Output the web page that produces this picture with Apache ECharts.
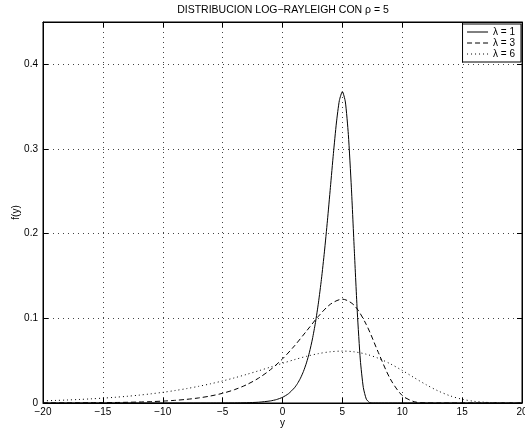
<!DOCTYPE html>
<html><head><meta charset="utf-8">
<script src="https://cdn.jsdelivr.net/npm/echarts@6/dist/echarts.min.js"></script>
<style>html,body{margin:0;padding:0;background:#fff}#c{width:525px;height:437px}</style>
</head><body><div id="c"></div>
<script>
// x positions and read values, lambda = 1
var x1 = [-20,-10,-6,-5,-4,-3,-2,-1,-0.5,0,0.5,1,1.25,1.5,1.75,2,2.25,2.5,2.75,3,3.25,3.5,3.75,4,4.25,4.5,4.75,5,5.25,5.5,5.75,6,6.25,6.5,6.75,7,7.25,7.5,8,20];
var y1 = [0,0,0.0000167,0.0000454,0.000123,0.000335,0.000911,0.002473,0.00407,0.006693,0.010986,0.017983,0.022971,0.029299,0.0373,0.047369,0.059969,0.075616,0.094857,0.118205,0.146055,0.178506,0.215128,0.254646,0.294542,0.330705,0.357431,0.367879,0.355585,0.317032,0.254908,0.179374,0.106382,0.050706,0.018216,0.004565,0.00072,0.0000624,0,0];
// lambda = 3
var x3 = [-20,-19,-18,-17,-16,-15,-14,-13,-12,-11,-10,-9,-8,-7,-6,-5,-4,-3,-2,-1,0,1,2,3,4,5,6,7,8,9,10,11,12,13,14,20];
var y3 = [0.00008,0.000112,0.000156,0.000218,0.000304,0.000423,0.000591,0.000824,0.001148,0.001601,0.002231,0.003105,0.004318,0.005994,0.008305,0.011475,0.01579,0.021606,0.029337,0.039402,0.052123,0.067505,0.084882,0.102418,0.116663,0.122626,0.115212,0.092589,0.059791,0.028469,0.008853,0.001522,0.000114,0.0000027,0,0];
// lambda = 6
var x6 = [-20,-19,-18,-17,-16,-15,-14,-13,-12,-11,-10,-9,-8,-7,-6,-5,-4,-3,-2,-1,0,1,2,3,4,5,6,7,8,9,10,11,12,13,14,15,16,17,18,19,20];
var y6 = [0.002544,0.002997,0.00353,0.004153,0.004883,0.005737,0.006734,0.007895,0.009243,0.010803,0.012603,0.014668,0.017027,0.019701,0.02271,0.026061,0.029751,0.033752,0.038012,0.042441,0.046902,0.051209,0.055118,0.058332,0.060513,0.061313,0.060421,0.057606,0.052839,0.046294,0.038415,0.029896,0.021568,0.014234,0.008451,0.004427,0.002004,0.000761,0.000235,0.0000572,0.0000104];
var seriesNames = ['\u03bb = 1','\u03bb = 3','\u03bb = 6'];
var titleText = 'DISTRIBUCION LOG\u2212RAYLEIGH CON \u03c1 = 5';

function pairs(xs, ys){ return xs.map(function(x,i){return [x, ys[i]];}); }
var FONT = '"Liberation Sans", Arial, sans-serif';
var minus = function(v){ return v < 0 ? '\u2212' + Math.abs(v) : String(v); };
var gridLine = {show:true, lineStyle:{color:'#444', type:[1,4], width:1}};

var chart = echarts.init(document.getElementById('c'), null, {renderer:'canvas'});
chart.setOption({
  animation:false,
  backgroundColor:'#fff',
  textStyle:{fontFamily:FONT},
  graphic:[{type:'text', x:283, y:5, style:{text:titleText, fill:'#000', fontSize:10.5, fontFamily:'"Liberation Sans", Arial, sans-serif', align:'center', verticalAlign:'top'}}],
  grid:{left:43, right:3, top:22, bottom:34, show:true, borderColor:'#000', borderWidth:1, backgroundColor:'transparent', outerBoundsMode:'none', containLabel:false},
  legend:{
    data:seriesNames, right:4, top:24, orient:'vertical', itemGap:1, itemWidth:21, itemHeight:11,
    backgroundColor:'#fff', borderColor:'#000', borderWidth:1, padding:[3,6,3,4],
    itemStyle:{opacity:0}, lineStyle:{width:1},
    textStyle:{fontSize:10, color:'#000', fontFamily:FONT}
  },
  xAxis:[{
    type:'value', min:-20, max:20, interval:5, name:'y', nameLocation:'middle', nameGap:15, nameMoveOverlap:false,
    nameTextStyle:{fontSize:10, color:'#000', fontFamily:FONT},
    axisLine:{show:true, onZero:false, lineStyle:{color:'#000'}},
    axisTick:{show:true, inside:true, length:5, lineStyle:{color:'#000'}},
    axisLabel:{fontSize:10, color:'#000', margin:4, formatter:minus, fontFamily:FONT},
    splitLine:gridLine
  },{
    type:'value', position:'top', min:-20, max:20, interval:5,
    axisLine:{show:true, onZero:false, lineStyle:{color:'#000'}},
    axisTick:{show:true, inside:true, length:5, lineStyle:{color:'#000'}},
    axisLabel:{show:false}, splitLine:{show:false}
  }],
  yAxis:[{
    type:'value', min:0, max:0.45, interval:0.1, name:'f(y)', nameLocation:'middle', nameGap:22, nameMoveOverlap:false,
    nameTextStyle:{fontSize:10, color:'#000', fontFamily:FONT},
    axisLine:{show:true, onZero:false, lineStyle:{color:'#000'}},
    axisTick:{show:true, inside:true, length:5, lineStyle:{color:'#000'}},
    axisLabel:{fontSize:10, color:'#000', margin:5, showMaxLabel:false, fontFamily:FONT,
      formatter:function(v){ return Math.abs(v-0.45)<1e-9 ? '' : String(Math.round(v*10)/10); }},
    splitLine:gridLine
  },{
    type:'value', position:'right', min:0, max:0.45, interval:0.1,
    axisLine:{show:true, onZero:false, lineStyle:{color:'#000'}},
    axisTick:{show:true, inside:true, length:5, lineStyle:{color:'#000'}},
    axisLabel:{show:false}, splitLine:{show:false}
  }],
  series:[
    {name:seriesNames[0], type:'line', data:pairs(x1,y1), symbol:'none', smooth:0.2,
     lineStyle:{color:'#000', width:1, type:'solid'}, itemStyle:{color:'#000'}},
    {name:seriesNames[1], type:'line', data:pairs(x3,y3), symbol:'none', smooth:0.3,
     lineStyle:{color:'#000', width:1, type:[5,3]}, itemStyle:{color:'#000'}},
    {name:seriesNames[2], type:'line', data:pairs(x6,y6), symbol:'none', smooth:0.3,
     lineStyle:{color:'#000', width:1, type:[1,3]}, itemStyle:{color:'#000'}}
  ]
});
</script></body></html>
